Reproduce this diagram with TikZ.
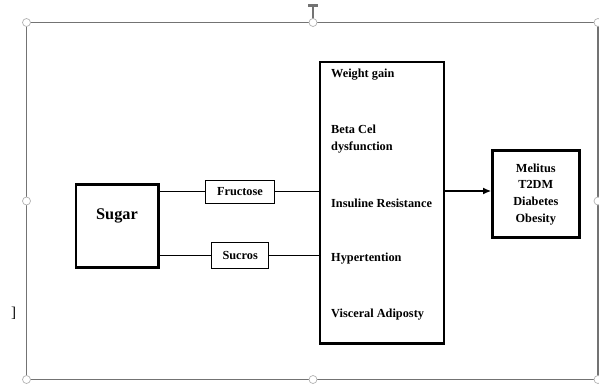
\documentclass[tikz,border=0pt]{standalone}
\usepackage{fontspec}
\setmainfont{Liberation Serif}
\usepackage{tikz}
\usetikzlibrary{positioning,arrows.meta}

\begin{document}
\begin{tikzpicture}[
  x=1pt, y=-1pt,
  font=\fontsize{12.3}{16.6}\selectfont\bfseries,
  heavybox/.style={
    draw,
    line width=2.5pt,
    inner sep=0pt
  },
  smallbox/.style={
    draw,
    line width=0.8pt,
    inner sep=0pt
  },
  item/.style={anchor=west, align=left, inner sep=0pt},
  link/.style={line width=0.8pt},
  flow/.style={-{Latex[length=8pt,width=7pt]}, line width=1.2pt},
  frame/.style={draw=black!55, line width=1.6pt},
  handle/.style={circle, draw=gray!60, fill=white, line width=0.7pt, minimum size=8pt, inner sep=0pt}
]
\useasboundingbox (0,0) rectangle (599,383);
% selection frame
\draw[frame] (26.5,22.5) rectangle (598,379.5);
\draw[black!55, line width=1.2pt] (313,22.5) -- (313,7);
\fill[black!55] (308,3.5) rectangle (318,7);
\foreach \hx/\hy in {26.5/22.5, 313/22.5, 598/22.5, 26.5/201, 598/201, 26.5/379.5, 313/379.5, 598/379.5}
  \node[handle] at (\hx,\hy) {};
\node[font=\fontsize{15}{17}\selectfont, inner sep=0pt] (bracket) at (13.5,313) {]};

% boxes
\node[heavybox, minimum width=82.5pt, minimum height=83pt] (sugar) at (117,225.8) {};
\node[font=\fontsize{16.3}{18}\selectfont\bfseries, inner sep=0pt] (sugartext) at ([yshift=10pt]sugar.center) {Sugar};
\node[smallbox, minimum width=68.6pt, minimum height=23.3pt] (fructose) at (240,191.7) {Fructose};
\node[smallbox, minimum width=57pt, minimum height=25.3pt] (sucros) at (240.2,255.3) {Sucros};
\node[heavybox, minimum width=124pt, minimum height=281.5pt] (effects) at (382,202.5) {};
\node[item] (weight) at (331,74.5) {Weight gain};
\node[item] (beta) at (331,139) {Beta Cel\\dysfunction};
\node[item] (insuline) at (331,203) {Insuline Resistance};
\node[item] (hyper) at (331,258.5) {Hypertention};
\node[item] (visceral) at (331,315) {Visceral Adiposty};
\node[heavybox, minimum width=87pt, minimum height=87pt, align=center] (outcome) at (535.8,194.2)
  {Melitus\\T2DM\\Diabetes\\Obesity};

% connectors
\draw[link] (sugar.east |- fructose.west) -- (fructose.west);
\draw[link] (fructose.east) -- (fructose.east -| effects.west);
\draw[link] (sugar.east |- sucros.west) -- (sucros.west);
\draw[link] (sucros.east) -- (sucros.east -| effects.west);
\draw[flow] (effects.east |- 0,191) -- (outcome.west |- 0,191);
\end{tikzpicture}
\end{document}
